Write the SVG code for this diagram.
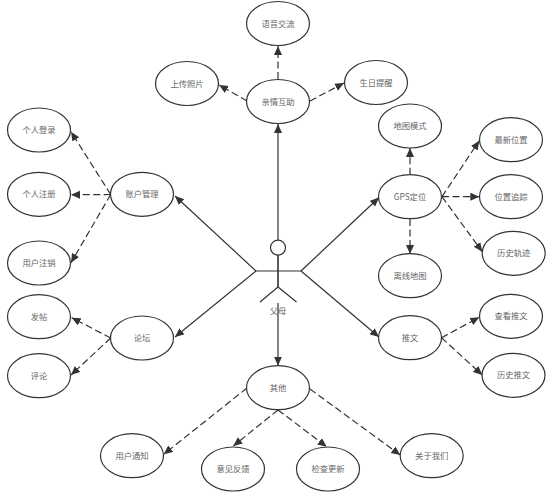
<svg xmlns="http://www.w3.org/2000/svg" width="554" height="499" viewBox="0 0 554 499">
<defs>
<marker id="arrow" markerUnits="userSpaceOnUse" markerWidth="10" markerHeight="9" refX="9" refY="4" orient="auto"><path d="M0 0L9 4L0 8Z" fill="#333"/></marker>
<style>
text{font-family:"Noto Sans CJK SC","Liberation Sans",sans-serif;font-size:8.3px;fill:#666;text-anchor:middle}
ellipse{fill:#fff;stroke:#333;stroke-width:1.2}
circle{fill:#fff;stroke:#333;stroke-width:1.2}
.c line,.a line{stroke:#333;stroke-width:1.2;fill:none}
.s{marker-end:url(#arrow)}
.d{stroke-dasharray:7 3.5;marker-end:url(#arrow)}
</style>
</defs>
<rect width="554" height="499" fill="#fff"/>
<g id="connectors" class="c">
<line class="s" x1="278" y1="240" x2="278" y2="124"/>
<line class="s" x1="256" y1="271" x2="175" y2="196"/>
<line class="s" x1="256" y1="271" x2="175" y2="337"/>
<line class="s" x1="301" y1="271" x2="379" y2="197.5"/>
<line class="s" x1="301" y1="271" x2="379" y2="337"/>
<line class="s" x1="278" y1="303" x2="278" y2="365.7"/>
<line class="d" x1="278" y1="79" x2="278" y2="46"/>
<line class="d" x1="247" y1="101" x2="219" y2="85"/>
<line class="d" x1="310" y1="101" x2="344" y2="83"/>
<line class="d" x1="410" y1="174.7" x2="410" y2="148"/>
<line class="d" x1="442" y1="196.7" x2="479.3" y2="140.7"/>
<line class="d" x1="442" y1="196.7" x2="479.3" y2="196.7"/>
<line class="d" x1="442" y1="196.7" x2="482.3" y2="251.7"/>
<line class="d" x1="410" y1="219" x2="410" y2="254"/>
<line class="d" x1="110.7" y1="194.5" x2="71" y2="131.7"/>
<line class="d" x1="110.7" y1="194.5" x2="71" y2="194.7"/>
<line class="d" x1="110.7" y1="194.5" x2="71" y2="262.7"/>
<line class="d" x1="110.7" y1="338" x2="71.7" y2="317.7"/>
<line class="d" x1="110.7" y1="338" x2="71" y2="375"/>
<line class="d" x1="247" y1="388" x2="163.7" y2="454.3"/>
<line class="d" x1="278" y1="410" x2="233.3" y2="446"/>
<line class="d" x1="278" y1="410" x2="326.7" y2="446.7"/>
<line class="d" x1="310" y1="389" x2="400.3" y2="455"/>
<line class="d" x1="441.5" y1="337.7" x2="479.3" y2="317.3"/>
<line class="d" x1="441.5" y1="337.7" x2="482.3" y2="375"/>
</g>
<g id="actor" class="a">
<circle cx="278" cy="247.7" r="7.5"/>
<line x1="278" y1="255" x2="278" y2="287" style="stroke-width:1.6"/>
<line x1="256" y1="271" x2="301" y2="271"/>
<line x1="278" y1="287" x2="260" y2="302"/>
<line x1="278" y1="287" x2="296.5" y2="302"/>
<text x="278" y="314">父母</text>
</g>
<g id="n1"><ellipse cx="278" cy="23.5" rx="31.5" ry="22"/><text x="278" y="26.5">语音交流</text></g>
<g id="n2"><ellipse cx="187" cy="83.5" rx="31.5" ry="22"/><text x="187" y="86.5">上传照片</text></g>
<g id="n3"><ellipse cx="278" cy="101.5" rx="31.5" ry="22"/><text x="278" y="104.5">亲情互助</text></g>
<g id="n4"><ellipse cx="376" cy="82.5" rx="31.5" ry="22"/><text x="376" y="85.5">生日提醒</text></g>
<g id="n5"><ellipse cx="410" cy="126" rx="31.5" ry="22"/><text x="410" y="129">地图模式</text></g>
<g id="n6"><ellipse cx="511" cy="139.7" rx="31.5" ry="22"/><text x="511" y="142.7">最新位置</text></g>
<g id="n7"><ellipse cx="410" cy="196.7" rx="31.5" ry="22"/><text x="410" y="199.7">GPS定位</text></g>
<g id="n8"><ellipse cx="511" cy="196.7" rx="31.5" ry="22"/><text x="511" y="199.7">位置追踪</text></g>
<g id="n9"><ellipse cx="513.7" cy="253.3" rx="31.5" ry="22"/><text x="513.7" y="256.3">历史轨迹</text></g>
<g id="n10"><ellipse cx="410" cy="275.7" rx="31.5" ry="22"/><text x="410" y="278.7">离线地图</text></g>
<g id="n11"><ellipse cx="39" cy="130" rx="31.5" ry="22"/><text x="39" y="133">个人登录</text></g>
<g id="n12"><ellipse cx="39" cy="194.3" rx="31.5" ry="22"/><text x="39" y="197.3">个人注册</text></g>
<g id="n13"><ellipse cx="39" cy="263" rx="31.5" ry="22"/><text x="39" y="266">用户注销</text></g>
<g id="n14"><ellipse cx="142" cy="194.3" rx="31.5" ry="22"/><text x="142" y="197.3">账户管理</text></g>
<g id="n15"><ellipse cx="39" cy="316.7" rx="31.5" ry="22"/><text x="39" y="319.7">发帖</text></g>
<g id="n16"><ellipse cx="39" cy="375.7" rx="31.5" ry="22"/><text x="39" y="378.7">评论</text></g>
<g id="n17"><ellipse cx="142" cy="338" rx="31.5" ry="22"/><text x="142" y="341">论坛</text></g>
<g id="n18"><ellipse cx="132" cy="455.7" rx="31.5" ry="22"/><text x="132" y="458.7">用户通知</text></g>
<g id="n19"><ellipse cx="233" cy="469" rx="31.5" ry="22"/><text x="233" y="472">意见反馈</text></g>
<g id="n20"><ellipse cx="278" cy="387.7" rx="31.5" ry="22"/><text x="278" y="390.7">其他</text></g>
<g id="n21"><ellipse cx="410" cy="337.7" rx="31.5" ry="22"/><text x="410" y="340.7">推文</text></g>
<g id="n22"><ellipse cx="511" cy="316.3" rx="31.5" ry="22"/><text x="511" y="319.3">查看推文</text></g>
<g id="n23"><ellipse cx="513.5" cy="375.3" rx="31.5" ry="22"/><text x="513.5" y="378.3">历史推文</text></g>
<g id="n24"><ellipse cx="328" cy="469" rx="31.5" ry="22"/><text x="328" y="472">检查更新</text></g>
<g id="n25"><ellipse cx="431.7" cy="455.7" rx="31.5" ry="22"/><text x="431.7" y="458.7">关于我们</text></g>
</svg>
